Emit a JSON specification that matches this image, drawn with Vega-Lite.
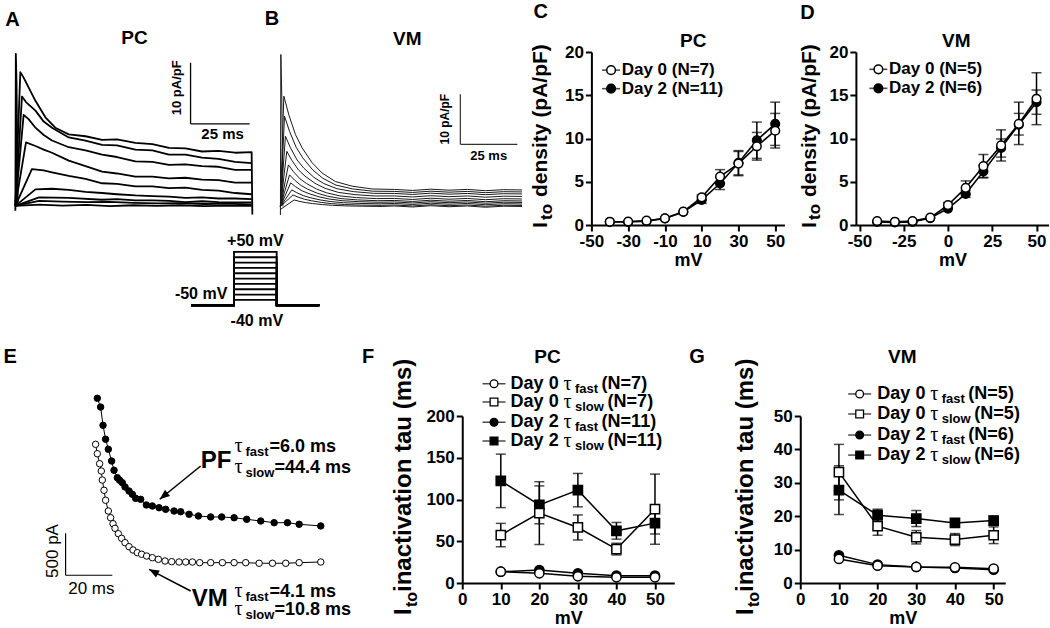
{
"$schema":"https://vega.github.io/schema/vega-lite/v6.json",
"background":"white",
"padding":{"left":3,"top":1,"right":0,"bottom":0},
"config":{
 "view":{"stroke":null},
 "axis":{"domainColor":"black","domainWidth":2,"tickColor":"black","tickWidth":2,"tickSize":6,"labelFont":"Liberation Sans","labelFontSize":17,"labelFontWeight":"bold","labelColor":"black","labelPadding":2,"labelFlush":false,"labelOverlap":false,"titleFont":"Liberation Sans","titleFontSize":18,"titleFontWeight":"bold","titleColor":"black","titlePadding":2,"grid":false},
 "text":{"font":"Liberation Sans","color":"black"}
},
"datasets":{
"trA":[
{"k":0,"t":0,"i":-0.8},{"k":0,"t":0.2,"i":24.9},{"k":0,"t":0.5,"i":20},{"k":0,"t":1.0,"i":0.5},
{"k":1,"t":0,"i":0},{"k":1,"t":2.1,"i":21.9},{"k":1,"t":3.5,"i":21.0},{"k":1,"t":5.6,"i":19.4},{"k":1,"t":8.5,"i":17.2},{"k":1,"t":12.7,"i":14.5},{"k":1,"t":16.9,"i":12.8},{"k":1,"t":22.6,"i":11.7},{"k":1,"t":29.7,"i":11.4},{"k":1,"t":36.7,"i":10.8},{"k":1,"t":43,"i":10.9},{"k":1,"t":50.8,"i":10.3},{"k":1,"t":58,"i":10.1},{"k":1,"t":65,"i":9.5},{"k":1,"t":72,"i":9.4},{"k":1,"t":79,"i":8.9},{"k":1,"t":86,"i":9.0},{"k":1,"t":93,"i":8.7},{"k":1,"t":100,"i":8.8},{"k":1,"t":100.3,"i":-1.4},
{"k":2,"t":0,"i":0},{"k":2,"t":2.8,"i":17.9},{"k":2,"t":4.5,"i":17.0},{"k":2,"t":8.5,"i":15.6},{"k":2,"t":12,"i":13.8},{"k":2,"t":15.5,"i":12.8},{"k":2,"t":22.6,"i":11.2},{"k":2,"t":29.7,"i":10.7},{"k":2,"t":36.7,"i":10.0},{"k":2,"t":43,"i":9.9},{"k":2,"t":50.8,"i":9.2},{"k":2,"t":58,"i":9.1},{"k":2,"t":65,"i":8.4},{"k":2,"t":72,"i":8.4},{"k":2,"t":79,"i":7.9},{"k":2,"t":86,"i":7.7},{"k":2,"t":93,"i":7.2},{"k":2,"t":100,"i":7.0},
{"k":3,"t":0,"i":0},{"k":3,"t":3.5,"i":14.9},{"k":3,"t":5.6,"i":14.2},{"k":3,"t":8.5,"i":12.8},{"k":3,"t":12,"i":11.6},{"k":3,"t":15.5,"i":10.7},{"k":3,"t":22.6,"i":9.6},{"k":3,"t":29.7,"i":9.1},{"k":3,"t":36.7,"i":8.4},{"k":3,"t":43,"i":8.0},{"k":3,"t":50.8,"i":7.3},{"k":3,"t":58,"i":7.2},{"k":3,"t":65,"i":6.7},{"k":3,"t":72,"i":6.8},{"k":3,"t":79,"i":6.5},{"k":3,"t":86,"i":6.4},{"k":3,"t":93,"i":5.9},{"k":3,"t":100,"i":5.9},
{"k":4,"t":0,"i":0},{"k":4,"t":4.5,"i":10.4},{"k":4,"t":8.5,"i":9.8},{"k":4,"t":12,"i":9.2},{"k":4,"t":15.5,"i":8.7},{"k":4,"t":22.6,"i":7.4},{"k":4,"t":29.7,"i":6.5},{"k":4,"t":36.7,"i":5.6},{"k":4,"t":43,"i":5.3},{"k":4,"t":50.8,"i":4.8},{"k":4,"t":58,"i":4.8},{"k":4,"t":65,"i":4.5},{"k":4,"t":72,"i":4.6},{"k":4,"t":79,"i":4.3},{"k":4,"t":86,"i":4.2},{"k":4,"t":93,"i":3.8},{"k":4,"t":100,"i":3.8},
{"k":5,"t":0,"i":0},{"k":5,"t":7,"i":6.0},{"k":5,"t":12,"i":5.8},{"k":5,"t":15.5,"i":5.5},{"k":5,"t":22.6,"i":4.9},{"k":5,"t":29.7,"i":4.4},{"k":5,"t":36.7,"i":3.7},{"k":5,"t":43,"i":3.6},{"k":5,"t":50.8,"i":3.2},{"k":5,"t":58,"i":3.2},{"k":5,"t":65,"i":2.9},{"k":5,"t":72,"i":3.0},{"k":5,"t":79,"i":2.6},{"k":5,"t":86,"i":2.5},{"k":5,"t":93,"i":2.1},{"k":5,"t":100,"i":1.9},
{"k":6,"t":0,"i":0},{"k":6,"t":8.5,"i":2.7},{"k":6,"t":15.5,"i":2.8},{"k":6,"t":22.6,"i":2.6},{"k":6,"t":29.7,"i":2.3},{"k":6,"t":36.7,"i":2.1},{"k":6,"t":43,"i":1.9},{"k":6,"t":50.8,"i":1.7},{"k":6,"t":58,"i":1.6},{"k":6,"t":65,"i":1.5},{"k":6,"t":72,"i":1.3},{"k":6,"t":79,"i":1.4},{"k":6,"t":86,"i":1.2},{"k":6,"t":93,"i":1.2},{"k":6,"t":100,"i":1.1},
{"k":7,"t":0,"i":0},{"k":7,"t":10,"i":1.4},{"k":7,"t":22.6,"i":1.3},{"k":7,"t":36.7,"i":1.0},{"k":7,"t":43,"i":1.1},{"k":7,"t":50.8,"i":0.9},{"k":7,"t":58,"i":0.9},{"k":7,"t":65,"i":0.8},{"k":7,"t":72,"i":0.6},{"k":7,"t":79,"i":0.75},{"k":7,"t":86,"i":0.6},{"k":7,"t":93,"i":0.55},{"k":7,"t":100,"i":0.55},
{"k":8,"t":0,"i":0},{"k":8,"t":10,"i":0.8},{"k":8,"t":20,"i":0.7},{"k":8,"t":30,"i":0.6},{"k":8,"t":40,"i":0.65},{"k":8,"t":50,"i":0.5},{"k":8,"t":60,"i":0.4},{"k":8,"t":70,"i":0.45},{"k":8,"t":80,"i":0.3},{"k":8,"t":90,"i":0.35},{"k":8,"t":100,"i":0.2},
{"k":9,"t":0,"i":0},{"k":9,"t":10,"i":0.2},{"k":9,"t":20,"i":0.05},{"k":9,"t":30,"i":0.15},{"k":9,"t":40,"i":-0.05},{"k":9,"t":50,"i":0.1},{"k":9,"t":60,"i":0},{"k":9,"t":70,"i":0.1},{"k":9,"t":80,"i":-0.05},{"k":9,"t":90,"i":0.05},{"k":9,"t":100,"i":0}
],
"barA":[{"t":74.15,"t2":74.15,"i":13.44,"i2":23.44},{"t":74.15,"t2":99.15,"i":13.44,"i2":13.44}],
"txtA":[{"s":"A","r":"letter","t":-1.27,"i":30.4},{"s":"PC","r":"title","t":50.4,"i":27.5},{"s":"10 pA/pF","r":"vbar","t":68.2,"i":19.34},{"s":"25 ms","r":"hbar","t":87.7,"i":11.8}],
"trB":[
{"k":0,"t":0,"i":-1.7},{"k":0,"t":0.2,"i":30.3},{"k":0,"t":0.6,"i":22},{"k":0,"t":1.1,"i":0},
{"k":1,"t":0,"i":0},{"k":1,"t":1.5,"i":22},{"k":1,"t":3.7,"i":18.26},{"k":1,"t":6.6,"i":14.33},{"k":1,"t":9.5,"i":11.72},{"k":1,"t":13.9,"i":8.72},{"k":1,"t":18.3,"i":6.67},{"k":1,"t":24.1,"i":4.98},{"k":1,"t":31.4,"i":4.05},{"k":1,"t":40.2,"i":3.49},{"k":1,"t":50,"i":3.4},{"k":1,"t":58,"i":3.2},{"k":1,"t":66,"i":3.45},{"k":1,"t":74,"i":3.25},{"k":1,"t":82,"i":3.4},{"k":1,"t":90,"i":3.15},{"k":1,"t":98,"i":3.35},{"k":1,"t":106,"i":3.3},
{"k":2,"t":0,"i":0},{"k":2,"t":1.8,"i":18},{"k":2,"t":4.0,"i":14.98},{"k":2,"t":6.9,"i":11.81},{"k":2,"t":9.8,"i":9.7},{"k":2,"t":14.2,"i":7.28},{"k":2,"t":18.6,"i":5.62},{"k":2,"t":24.4,"i":4.26},{"k":2,"t":31.7,"i":3.5},{"k":2,"t":40.5,"i":3.05},{"k":2,"t":50,"i":3.0},{"k":2,"t":58,"i":2.8},{"k":2,"t":66,"i":3.05},{"k":2,"t":74,"i":2.85},{"k":2,"t":82,"i":3.0},{"k":2,"t":90,"i":2.75},{"k":2,"t":98,"i":2.95},{"k":2,"t":106,"i":2.9},
{"k":3,"t":0,"i":0},{"k":3,"t":2.2,"i":14},{"k":3,"t":4.4,"i":11.7},{"k":3,"t":7.3,"i":9.29},{"k":3,"t":10.2,"i":7.68},{"k":3,"t":14.6,"i":5.84},{"k":3,"t":19,"i":4.57},{"k":3,"t":24.8,"i":3.54},{"k":3,"t":32.1,"i":2.96},{"k":3,"t":40.9,"i":2.62},{"k":3,"t":50,"i":2.6},{"k":3,"t":58,"i":2.4},{"k":3,"t":66,"i":2.65},{"k":3,"t":74,"i":2.45},{"k":3,"t":82,"i":2.6},{"k":3,"t":90,"i":2.35},{"k":3,"t":98,"i":2.55},{"k":3,"t":106,"i":2.5},
{"k":4,"t":0,"i":0},{"k":4,"t":2.8,"i":11},{"k":4,"t":5.0,"i":9.2},{"k":4,"t":7.9,"i":7.31},{"k":4,"t":10.8,"i":6.05},{"k":4,"t":15.2,"i":4.61},{"k":4,"t":19.6,"i":3.62},{"k":4,"t":25.4,"i":2.81},{"k":4,"t":32.7,"i":2.36},{"k":4,"t":41.5,"i":2.09},{"k":4,"t":50,"i":2.1},{"k":4,"t":58,"i":1.9},{"k":4,"t":66,"i":2.15},{"k":4,"t":74,"i":1.95},{"k":4,"t":82,"i":2.1},{"k":4,"t":90,"i":1.85},{"k":4,"t":98,"i":2.05},{"k":4,"t":106,"i":2.0},
{"k":5,"t":0,"i":0},{"k":5,"t":3.5,"i":8.3},{"k":5,"t":5.7,"i":6.94},{"k":5,"t":8.6,"i":5.51},{"k":5,"t":11.5,"i":4.56},{"k":5,"t":15.9,"i":3.47},{"k":5,"t":20.3,"i":2.72},{"k":5,"t":26.1,"i":2.11},{"k":5,"t":33.4,"i":1.77},{"k":5,"t":42.2,"i":1.57},{"k":5,"t":50,"i":1.6},{"k":5,"t":58,"i":1.4},{"k":5,"t":66,"i":1.65},{"k":5,"t":74,"i":1.45},{"k":5,"t":82,"i":1.6},{"k":5,"t":90,"i":1.35},{"k":5,"t":98,"i":1.55},{"k":5,"t":106,"i":1.5},
{"k":6,"t":0,"i":0},{"k":6,"t":4.0,"i":6.3},{"k":6,"t":6.2,"i":5.26},{"k":6,"t":9.1,"i":4.17},{"k":6,"t":12,"i":3.44},{"k":6,"t":16.4,"i":2.61},{"k":6,"t":20.8,"i":2.04},{"k":6,"t":26.6,"i":1.57},{"k":6,"t":33.9,"i":1.31},{"k":6,"t":42.7,"i":1.15},{"k":6,"t":50,"i":1.2},{"k":6,"t":58,"i":1.0},{"k":6,"t":66,"i":1.25},{"k":6,"t":74,"i":1.05},{"k":6,"t":82,"i":1.2},{"k":6,"t":90,"i":0.95},{"k":6,"t":98,"i":1.15},{"k":6,"t":106,"i":1.1},
{"k":7,"t":0,"i":0},{"k":7,"t":4.5,"i":4.7},{"k":7,"t":6.7,"i":3.92},{"k":7,"t":9.6,"i":3.1},{"k":7,"t":12.5,"i":2.56},{"k":7,"t":16.9,"i":1.93},{"k":7,"t":21.3,"i":1.5},{"k":7,"t":27.1,"i":1.15},{"k":7,"t":34.4,"i":0.96},{"k":7,"t":43.2,"i":0.84},{"k":7,"t":50,"i":0.9},{"k":7,"t":58,"i":0.7},{"k":7,"t":66,"i":0.95},{"k":7,"t":74,"i":0.75},{"k":7,"t":82,"i":0.9},{"k":7,"t":90,"i":0.65},{"k":7,"t":98,"i":0.85},{"k":7,"t":106,"i":0.8},
{"k":8,"t":0,"i":0},{"k":8,"t":5,"i":3.3},{"k":8,"t":7.2,"i":2.74},{"k":8,"t":10.1,"i":2.15},{"k":8,"t":13,"i":1.76},{"k":8,"t":17.4,"i":1.31},{"k":8,"t":21.8,"i":1.0},{"k":8,"t":27.6,"i":0.75},{"k":8,"t":34.9,"i":0.61},{"k":8,"t":43.7,"i":0.53},{"k":8,"t":50,"i":0.6},{"k":8,"t":58,"i":0.4},{"k":8,"t":66,"i":0.65},{"k":8,"t":74,"i":0.45},{"k":8,"t":82,"i":0.6},{"k":8,"t":90,"i":0.35},{"k":8,"t":98,"i":0.55},{"k":8,"t":106,"i":0.5},
{"k":9,"t":0,"i":0},{"k":9,"t":5.5,"i":2.3},{"k":9,"t":7.7,"i":1.88},{"k":9,"t":10.6,"i":1.44},{"k":9,"t":13.5,"i":1.15},{"k":9,"t":17.9,"i":0.81},{"k":9,"t":22.3,"i":0.58},{"k":9,"t":28.1,"i":0.39},{"k":9,"t":35.4,"i":0.28},{"k":9,"t":44.2,"i":0.22},{"k":9,"t":50,"i":0.3},{"k":9,"t":58,"i":0.1},{"k":9,"t":66,"i":0.35},{"k":9,"t":74,"i":0.15},{"k":9,"t":82,"i":0.3},{"k":9,"t":90,"i":0.05},{"k":9,"t":98,"i":0.25},{"k":9,"t":106,"i":0.2},
{"k":10,"t":0,"i":-0.6},{"k":10,"t":6,"i":1.3},{"k":10,"t":8.2,"i":1.04},{"k":10,"t":11.1,"i":0.77},{"k":10,"t":14,"i":0.59},{"k":10,"t":18.4,"i":0.38},{"k":10,"t":22.8,"i":0.23},{"k":10,"t":28.6,"i":0.12},{"k":10,"t":35.9,"i":0.05},{"k":10,"t":44.7,"i":0.01},{"k":10,"t":50,"i":0.1},{"k":10,"t":58,"i":-0.1},{"k":10,"t":66,"i":0.15},{"k":10,"t":74,"i":-0.05},{"k":10,"t":82,"i":0.1},{"k":10,"t":90,"i":-0.15},{"k":10,"t":98,"i":0.05},{"k":10,"t":106,"i":0}
],
"barB":[{"t":78.95,"t2":78.95,"i":12.4,"i2":22.4},{"t":78.95,"t2":103.95,"i":12.4,"i2":12.4}],
"txtB":[{"s":"B","r":"letter","t":-3.73,"i":37.4},{"s":"VM","r":"title","t":55.7,"i":33.4},{"s":"10 pA/pF","r":"vbar","t":72.1,"i":17.4},{"s":"25 ms","r":"hbar","t":91.4,"i":10.0}],
"stim":[
{"lv":-40,"seq":1,"t":-100,"v":-50},{"lv":-40,"seq":2,"t":0,"v":-50},{"lv":-40,"seq":3,"t":0,"v":-40},{"lv":-40,"seq":4,"t":100,"v":-40},{"lv":-40,"seq":5,"t":100,"v":-50},{"lv":-40,"seq":6,"t":200,"v":-50},
{"lv":-30,"seq":1,"t":-100,"v":-50},{"lv":-30,"seq":2,"t":0,"v":-50},{"lv":-30,"seq":3,"t":0,"v":-30},{"lv":-30,"seq":4,"t":100,"v":-30},{"lv":-30,"seq":5,"t":100,"v":-50},{"lv":-30,"seq":6,"t":200,"v":-50},
{"lv":-20,"seq":1,"t":-100,"v":-50},{"lv":-20,"seq":2,"t":0,"v":-50},{"lv":-20,"seq":3,"t":0,"v":-20},{"lv":-20,"seq":4,"t":100,"v":-20},{"lv":-20,"seq":5,"t":100,"v":-50},{"lv":-20,"seq":6,"t":200,"v":-50},
{"lv":-10,"seq":1,"t":-100,"v":-50},{"lv":-10,"seq":2,"t":0,"v":-50},{"lv":-10,"seq":3,"t":0,"v":-10},{"lv":-10,"seq":4,"t":100,"v":-10},{"lv":-10,"seq":5,"t":100,"v":-50},{"lv":-10,"seq":6,"t":200,"v":-50},
{"lv":0,"seq":1,"t":-100,"v":-50},{"lv":0,"seq":2,"t":0,"v":-50},{"lv":0,"seq":3,"t":0,"v":0},{"lv":0,"seq":4,"t":100,"v":0},{"lv":0,"seq":5,"t":100,"v":-50},{"lv":0,"seq":6,"t":200,"v":-50},
{"lv":10,"seq":1,"t":-100,"v":-50},{"lv":10,"seq":2,"t":0,"v":-50},{"lv":10,"seq":3,"t":0,"v":10},{"lv":10,"seq":4,"t":100,"v":10},{"lv":10,"seq":5,"t":100,"v":-50},{"lv":10,"seq":6,"t":200,"v":-50},
{"lv":20,"seq":1,"t":-100,"v":-50},{"lv":20,"seq":2,"t":0,"v":-50},{"lv":20,"seq":3,"t":0,"v":20},{"lv":20,"seq":4,"t":100,"v":20},{"lv":20,"seq":5,"t":100,"v":-50},{"lv":20,"seq":6,"t":200,"v":-50},
{"lv":30,"seq":1,"t":-100,"v":-50},{"lv":30,"seq":2,"t":0,"v":-50},{"lv":30,"seq":3,"t":0,"v":30},{"lv":30,"seq":4,"t":100,"v":30},{"lv":30,"seq":5,"t":100,"v":-50},{"lv":30,"seq":6,"t":200,"v":-50},
{"lv":40,"seq":1,"t":-100,"v":-50},{"lv":40,"seq":2,"t":0,"v":-50},{"lv":40,"seq":3,"t":0,"v":40},{"lv":40,"seq":4,"t":100,"v":40},{"lv":40,"seq":5,"t":100,"v":-50},{"lv":40,"seq":6,"t":200,"v":-50},
{"lv":50,"seq":1,"t":-100,"v":-50},{"lv":50,"seq":2,"t":0,"v":-50},{"lv":50,"seq":3,"t":0,"v":50},{"lv":50,"seq":4,"t":100,"v":50},{"lv":50,"seq":5,"t":100,"v":-50},{"lv":50,"seq":6,"t":200,"v":-50}
],
"txtS":[{"s":"+50 mV","r":"c","t":50,"v":70},{"s":"-50 mV","r":"r","t":-15.6,"v":-28.9},{"s":"-40 mV","r":"c","t":53.5,"v":-79.3}],
"ivC":[
{"day":"Day 2","mv":-40,"i":0.35},{"day":"Day 2","mv":-30,"i":0.35},{"day":"Day 2","mv":-20,"i":0.45},{"day":"Day 2","mv":-10,"i":0.75},{"day":"Day 2","mv":0,"i":1.5},{"day":"Day 2","mv":10,"i":2.9,"lo":2.5,"hi":3.3},{"day":"Day 2","mv":20,"i":4.8,"lo":4.1,"hi":5.5},{"day":"Day 2","mv":30,"i":7.2,"lo":5.8,"hi":8.6},{"day":"Day 2","mv":40,"i":9.8,"lo":7.7,"hi":11.9},{"day":"Day 2","mv":50,"i":11.7,"lo":9.2,"hi":14.2},
{"day":"Day 0","mv":-40,"i":0.38},{"day":"Day 0","mv":-30,"i":0.4},{"day":"Day 0","mv":-20,"i":0.5},{"day":"Day 0","mv":-10,"i":0.77},{"day":"Day 0","mv":0,"i":1.54},{"day":"Day 0","mv":10,"i":3.2,"lo":2.9,"hi":3.5},{"day":"Day 0","mv":20,"i":5.6,"lo":4.8,"hi":6.4},{"day":"Day 0","mv":30,"i":7.1,"lo":5.7,"hi":8.5},{"day":"Day 0","mv":40,"i":9.1,"lo":7.5,"hi":10.7},{"day":"Day 0","mv":50,"i":10.9,"lo":8.9,"hi":12.9}
],
"legC":[{"day":"Day 0","lab":"Day 0 (N=7)","mv":-39.3,"i":17.9},{"day":"Day 2","lab":"Day 2 (N=11)","mv":-39.3,"i":15.76}],
"txtC":[{"s":"C","r":"letter","mv":-77.6,"i":24.65},{"s":"PC","r":"title","mv":5.4,"i":21.27},{"s":"I","r":"yI","mv":-73.9,"i":-0.35},{"s":"to","r":"ysub","mv":-71.2,"i":0.58},{"s":"density (pA/pF)","r":"ymain","mv":-73.9,"i":3.24}],
"ivD":[
{"day":"Day 2","mv":-40,"i":0.35},{"day":"Day 2","mv":-30,"i":0.3},{"day":"Day 2","mv":-20,"i":0.35},{"day":"Day 2","mv":-10,"i":0.8},{"day":"Day 2","mv":0,"i":1.9},{"day":"Day 2","mv":10,"i":3.6,"lo":3.2,"hi":4.0},{"day":"Day 2","mv":20,"i":6.2,"lo":5.5,"hi":6.9},{"day":"Day 2","mv":30,"i":8.9,"lo":7.85,"hi":9.95},{"day":"Day 2","mv":40,"i":11.6,"lo":10.4,"hi":12.9},{"day":"Day 2","mv":50,"i":14.2,"lo":12.8,"hi":15.6},
{"day":"Day 0","mv":-40,"i":0.46},{"day":"Day 0","mv":-30,"i":0.38},{"day":"Day 0","mv":-20,"i":0.46},{"day":"Day 0","mv":-10,"i":0.85},{"day":"Day 0","mv":0,"i":2.3,"lo":2.0,"hi":2.6},{"day":"Day 0","mv":10,"i":4.3,"lo":3.5,"hi":5.1},{"day":"Day 0","mv":20,"i":6.8,"lo":5.45,"hi":8.15},{"day":"Day 0","mv":30,"i":9.2,"lo":7.4,"hi":11.0},{"day":"Day 0","mv":40,"i":11.7,"lo":9.3,"hi":14.2},{"day":"Day 0","mv":50,"i":14.6,"lo":11.6,"hi":17.6}
],
"legD":[{"day":"Day 0","lab":"Day 0 (N=5)","mv":-39.3,"i":18.0},{"day":"Day 2","lab":"Day 2 (N=6)","mv":-39.3,"i":15.8}],
"txtD":[{"s":"D","r":"letter","mv":-79.3,"i":24.54},{"s":"VM","r":"title","mv":4.7,"i":21.27},{"s":"I","r":"yI","mv":-74.8,"i":-0.35},{"s":"to","r":"ysub","mv":-72.0,"i":0.58},{"s":"density (pA/pF)","r":"ymain","mv":-74.8,"i":3.24}],
"decay":[
{"cell":"PF","t":0.85,"pa":2199},{"cell":"PF","t":2.26,"pa":2094},{"cell":"PF","t":3.28,"pa":1877},{"cell":"PF","t":4.38,"pa":1711},{"cell":"PF","t":5.53,"pa":1592},{"cell":"PF","t":6.94,"pa":1452},{"cell":"PF","t":7.96,"pa":1342},{"cell":"PF","t":9.36,"pa":1254},{"cell":"PF","t":10.34,"pa":1223},{"cell":"PF","t":11.49,"pa":1194},{"cell":"PF","t":12.64,"pa":1143},{"cell":"PF","t":14.34,"pa":1095},{"cell":"PF","t":15.74,"pa":1056},{"cell":"PF","t":17.15,"pa":1008},{"cell":"PF","t":19.28,"pa":996},{"cell":"PF","t":21.7,"pa":929},{"cell":"PF","t":24.26,"pa":917},{"cell":"PF","t":27.11,"pa":896},{"cell":"PF","t":29.91,"pa":877},{"cell":"PF","t":33.49,"pa":857},{"cell":"PF","t":36.3,"pa":849},{"cell":"PF","t":39.87,"pa":818},{"cell":"PF","t":43.83,"pa":798},{"cell":"PF","t":49.06,"pa":786},{"cell":"PF","t":53.74,"pa":786},{"cell":"PF","t":59.02,"pa":777},{"cell":"PF","t":64.38,"pa":758},{"cell":"PF","t":70.34,"pa":738},{"cell":"PF","t":76.04,"pa":718},{"cell":"PF","t":81.7,"pa":718},{"cell":"PF","t":86.68,"pa":699},{"cell":"PF","t":95.87,"pa":679},
{"cell":"VM","t":0.13,"pa":1651},{"cell":"VM","t":0.85,"pa":1539},{"cell":"VM","t":1.83,"pa":1420},{"cell":"VM","t":2.55,"pa":1333},{"cell":"VM","t":2.98,"pa":1226},{"cell":"VM","t":3.7,"pa":1104},{"cell":"VM","t":4.38,"pa":985},{"cell":"VM","t":5.53,"pa":857},{"cell":"VM","t":6.51,"pa":777},{"cell":"VM","t":7.53,"pa":706},{"cell":"VM","t":8.38,"pa":651},{"cell":"VM","t":9.79,"pa":587},{"cell":"VM","t":11.19,"pa":532},{"cell":"VM","t":12.64,"pa":480},{"cell":"VM","t":14.34,"pa":432},{"cell":"VM","t":16.04,"pa":393},{"cell":"VM","t":17.87,"pa":361},{"cell":"VM","t":19.7,"pa":342},{"cell":"VM","t":21.83,"pa":321},{"cell":"VM","t":24.26,"pa":301},{"cell":"VM","t":26.81,"pa":282},{"cell":"VM","t":29.66,"pa":262},{"cell":"VM","t":32.47,"pa":254},{"cell":"VM","t":35.62,"pa":250},{"cell":"VM","t":38.43,"pa":250},{"cell":"VM","t":41.28,"pa":250},{"cell":"VM","t":44.38,"pa":242},{"cell":"VM","t":49.06,"pa":242},{"cell":"VM","t":54.04,"pa":242},{"cell":"VM","t":59.02,"pa":242},{"cell":"VM","t":63.96,"pa":242},{"cell":"VM","t":69.66,"pa":235},{"cell":"VM","t":75.32,"pa":235},{"cell":"VM","t":80.98,"pa":235},{"cell":"VM","t":86.68,"pa":242},{"cell":"VM","t":95.87,"pa":250}
],
"barE":[{"t":-12.64,"t2":-12.64,"pa":92,"pa2":592},{"t":-12.64,"t2":7.23,"pa":92,"pa2":92}],
"arrE":[{"a":"PF","t":44.8,"pa":1393,"t2":27.4,"pa2":997},{"a":"VM","t":40.55,"pa":-95,"t2":22.85,"pa2":163}],
"txtE":[
{"s":"E","r":"letter","t":-36.2,"pa":2690},
{"s":"PF","r":"big","t":51.3,"pa":1452},{"s":"VM","r":"big","t":48.7,"pa":-185},
{"s":"500 pA","r":"vbar","t":-18.09,"pa":381},{"s":"20 ms","r":"hbar","t":-1.7,"pa":-71.4},
{"s":"fast","r":"f","v":"=6.0 ms","t":59.2,"pa":1565},{"s":"slow","r":"s","v":"=44.4 ms","t":59.2,"pa":1313},
{"s":"fast","r":"f","v":"=4.1 ms","t":59.2,"pa":-163},{"s":"slow","r":"s","v":"=10.8 ms","t":59.2,"pa":-385}
],
"tauF":[
{"s":"d2f","mv":10,"tau":13.5},{"s":"d2f","mv":20,"tau":15.5},{"s":"d2f","mv":30,"tau":11.6},{"s":"d2f","mv":40,"tau":8.8},{"s":"d2f","mv":50,"tau":8.8},
{"s":"d2s","mv":10,"tau":122.3,"lo":90.3,"hi":154.3},{"s":"d2s","mv":20,"tau":93.6,"lo":70.9,"hi":116.3},{"s":"d2s","mv":30,"tau":111.2,"lo":91.2,"hi":131.2},{"s":"d2s","mv":40,"tau":62.5,"lo":52.5,"hi":72.5},{"s":"d2s","mv":50,"tau":71.7,"lo":58.7,"hi":84.7},
{"s":"d0f","mv":10,"tau":13.5},{"s":"d0f","mv":20,"tau":11.6},{"s":"d0f","mv":30,"tau":8},{"s":"d0f","mv":40,"tau":6.8},{"s":"d0f","mv":50,"tau":6.8},
{"s":"d0s","mv":10,"tau":57.4,"lo":43.4,"hi":71.4},{"s":"d0s","mv":20,"tau":83.7,"lo":46.1,"hi":121.3},{"s":"d0s","mv":30,"tau":66.5,"lo":51.5,"hi":81.5},{"s":"d0s","mv":40,"tau":40.6,"lo":33.6,"hi":47.6},{"s":"d0s","mv":50,"tau":88.4,"lo":46.4,"hi":130.4}
],
"legF":[{"s":"d0f","day":"Day 0","sub":"fast","n":"(N=7)","mv":8.24,"tau":238.7},{"s":"d0s","day":"Day 0","sub":"slow","n":"(N=7)","mv":8.24,"tau":216.8},{"s":"d2f","day":"Day 2","sub":"fast","n":"(N=11)","mv":8.24,"tau":192.5},{"s":"d2s","day":"Day 2","sub":"slow","n":"(N=11)","mv":8.24,"tau":170.1}],
"txtF":[{"s":"F","r":"letter","mv":-24.4,"tau":270.7},{"s":"PC","r":"title","mv":22.1,"tau":270.7},{"s":"I","r":"yI","mv":-13.26,"tau":-38.3},{"s":"to","r":"ysub","mv":-11.7,"tau":-28.7},{"s":"inactivation tau (ms)","r":"ymain","mv":-13.26,"tau":-10.8}],
"tauG":[
{"s":"d2f","mv":10,"tau":8.3},{"s":"d2f","mv":20,"tau":5.5},{"s":"d2f","mv":30,"tau":4.8},{"s":"d2f","mv":40,"tau":4.5},{"s":"d2f","mv":50,"tau":4.0},
{"s":"d2s","mv":10,"tau":27.8,"lo":20.5,"hi":35.1},{"s":"d2s","mv":20,"tau":20.3,"lo":18.5,"hi":22.1},{"s":"d2s","mv":30,"tau":19.3,"lo":16.9,"hi":21.7},{"s":"d2s","mv":40,"tau":18,"lo":17,"hi":19},{"s":"d2s","mv":50,"tau":18.7,"lo":17.4,"hi":20},
{"s":"d0f","mv":10,"tau":7.2},{"s":"d0f","mv":20,"tau":5.2},{"s":"d0f","mv":30,"tau":4.8},{"s":"d0f","mv":40,"tau":4.7},{"s":"d0f","mv":50,"tau":4.3},
{"s":"d0s","mv":10,"tau":33.2,"lo":24.9,"hi":41.5},{"s":"d0s","mv":20,"tau":17,"lo":14.3,"hi":19.7},{"s":"d0s","mv":30,"tau":13.7,"lo":11.7,"hi":15.7},{"s":"d0s","mv":40,"tau":13,"lo":11.2,"hi":14.8},{"s":"d0s","mv":50,"tau":14.3,"lo":11.8,"hi":16.8}
],
"legG":[{"s":"d0f","day":"Day 0","sub":"fast","n":"(N=5)","mv":15.36,"tau":56.6},{"s":"d0s","day":"Day 0","sub":"slow","n":"(N=5)","mv":15.36,"tau":50.6},{"s":"d2f","day":"Day 2","sub":"fast","n":"(N=6)","mv":15.36,"tau":44.3},{"s":"d2s","day":"Day 2","sub":"slow","n":"(N=6)","mv":15.36,"tau":38.3}],
"txtG":[{"s":"G","r":"letter","mv":-26.7,"tau":67.7},{"s":"VM","r":"title","mv":26.4,"tau":67.7},{"s":"I","r":"yI","mv":-12.2,"tau":-9.58},{"s":"to","r":"ysub","mv":-10.6,"tau":-7.19},{"s":"inactivation tau (ms)","r":"ymain","mv":-12.2,"tau":-2.69}]
},
"vconcat":[
{"hconcat":[
 {"vconcat":[
  {"hconcat":[
   {"width":241,"height":163,
    "encoding":{"x":{"field":"t","type":"quantitative","scale":{"domain":[-1,101],"nice":false,"zero":false},"axis":null},"y":{"field":"i","type":"quantitative","scale":{"domain":[-1.5,25.2],"nice":false,"zero":false},"axis":null}},
    "layer":[
     {"data":{"name":"trA"},"mark":{"type":"line","color":"black","strokeWidth":1.8,"strokeJoin":"round"},"encoding":{"detail":{"field":"k","type":"nominal"}}},
     {"data":{"name":"barA"},"mark":{"type":"rule","color":"black","strokeWidth":1.3},"encoding":{"x2":{"field":"t2"},"y2":{"field":"i2"}}},
     {"data":{"name":"txtA"},"transform":[{"filter":"datum.r=='letter'"}],"mark":{"type":"text","fontSize":20,"fontWeight":"bold","align":"center","baseline":"middle"},"encoding":{"text":{"field":"s","type":"nominal"}}},
     {"data":{"name":"txtA"},"transform":[{"filter":"datum.r=='title'"}],"mark":{"type":"text","fontSize":19,"fontWeight":"bold","align":"center","baseline":"middle"},"encoding":{"text":{"field":"s","type":"nominal"}}},
     {"data":{"name":"txtA"},"transform":[{"filter":"datum.r=='vbar'"}],"mark":{"type":"text","fontSize":13,"fontWeight":"bold","align":"center","baseline":"middle","angle":270},"encoding":{"text":{"field":"s","type":"nominal"}}},
     {"data":{"name":"txtA"},"transform":[{"filter":"datum.r=='hbar'"}],"mark":{"type":"text","fontSize":15,"fontWeight":"bold","align":"center","baseline":"middle"},"encoding":{"text":{"field":"s","type":"nominal"}}}
    ]},
   {"width":245,"height":162,
    "encoding":{"x":{"field":"t","type":"quantitative","scale":{"domain":[-1.5,106],"nice":false,"zero":false},"axis":null},"y":{"field":"i","type":"quantitative","scale":{"domain":[-1.5,30.8],"nice":false,"zero":false},"axis":null}},
    "layer":[
     {"data":{"name":"trB"},"mark":{"type":"line","color":"#1a1a1a","strokeWidth":1.0,"strokeJoin":"round"},"encoding":{"detail":{"field":"k","type":"nominal"}}},
     {"data":{"name":"barB"},"mark":{"type":"rule","color":"#333333","strokeWidth":1.2},"encoding":{"x2":{"field":"t2"},"y2":{"field":"i2"}}},
     {"data":{"name":"txtB"},"transform":[{"filter":"datum.r=='letter'"}],"mark":{"type":"text","fontSize":20,"fontWeight":"bold","align":"center","baseline":"middle"},"encoding":{"text":{"field":"s","type":"nominal"}}},
     {"data":{"name":"txtB"},"transform":[{"filter":"datum.r=='title'"}],"mark":{"type":"text","fontSize":19,"fontWeight":"bold","align":"center","baseline":"middle"},"encoding":{"text":{"field":"s","type":"nominal"}}},
     {"data":{"name":"txtB"},"transform":[{"filter":"datum.r=='vbar'"}],"mark":{"type":"text","fontSize":12,"fontWeight":"bold","align":"center","baseline":"middle","angle":270},"encoding":{"text":{"field":"s","type":"nominal"}}},
     {"data":{"name":"txtB"},"transform":[{"filter":"datum.r=='hbar'"}],"mark":{"type":"text","fontSize":13,"fontWeight":"bold","align":"center","baseline":"middle"},"encoding":{"text":{"field":"s","type":"nominal"}}}
    ]}
  ],"spacing":23,"bounds":"flush"},
  {"width":509,"height":64,
   "encoding":{"x":{"field":"t","type":"quantitative","scale":{"domain":[-518,675],"nice":false,"zero":false},"axis":null},"y":{"field":"v","type":"quantitative","scale":{"domain":[-60,60],"nice":false,"zero":false},"axis":null}},
   "layer":[
    {"data":{"name":"stim"},"mark":{"type":"line","color":"black","strokeWidth":1.8},"encoding":{"detail":{"field":"lv","type":"nominal"},"order":{"field":"seq","type":"quantitative"}}},
    {"data":{"name":"txtS"},"transform":[{"filter":"datum.r=='c'"}],"mark":{"type":"text","fontSize":16,"fontWeight":"bold","align":"center","baseline":"middle"},"encoding":{"text":{"field":"s","type":"nominal"}}},
    {"data":{"name":"txtS"},"transform":[{"filter":"datum.r=='r'"}],"mark":{"type":"text","fontSize":16,"fontWeight":"bold","align":"right","baseline":"middle"},"encoding":{"text":{"field":"s","type":"nominal"}}}
   ]}
 ],"spacing":194.6,"bounds":"flush"},
 {"hconcat":[
  {"width":193,"height":173,
   "encoding":{"x":{"field":"mv","type":"quantitative","scale":{"domain":[-50,55],"nice":false,"zero":false},"axis":{"values":[-50,-30,-10,10,30,50],"title":"mV","labelExpr":"'' + datum.value"}},"y":{"field":"i","type":"quantitative","scale":{"domain":[0,20],"nice":false,"zero":false},"axis":{"values":[0,5,10,15,20],"title":null}}},
   "layer":[
    {"data":{"name":"ivC"},"mark":{"type":"line","color":"black","strokeWidth":1.6},"encoding":{"detail":{"field":"day","type":"nominal"}}},
    {"data":{"name":"ivC"},"transform":[{"filter":"isValid(datum.lo)"}],"mark":{"type":"rule","color":"black","strokeWidth":1.5},"encoding":{"y":{"field":"lo","type":"quantitative","axis":{"values":[0,5,10,15,20],"title":null}},"y2":{"field":"hi"}}},
    {"data":{"name":"ivC"},"transform":[{"filter":"isValid(datum.lo)"}],"mark":{"type":"tick","orient":"horizontal","color":"black","size":10,"thickness":1.5},"encoding":{"y":{"field":"lo","type":"quantitative","axis":{"values":[0,5,10,15,20],"title":null}}}},
    {"data":{"name":"ivC"},"transform":[{"filter":"isValid(datum.hi)"}],"mark":{"type":"tick","orient":"horizontal","color":"black","size":10,"thickness":1.5},"encoding":{"y":{"field":"hi","type":"quantitative","axis":{"values":[0,5,10,15,20],"title":null}}}},
    {"data":{"name":"ivC"},"mark":{"type":"point","shape":"circle","filled":true,"size":75,"stroke":"black","strokeWidth":1.5,"opacity":1},"encoding":{"fill":{"condition":{"test":"datum.day=='Day 2'","value":"black"},"value":"white"}}},
    {"data":{"name":"legC"},"mark":{"type":"tick","orient":"horizontal","color":"black","size":18,"thickness":1.6}},
    {"data":{"name":"legC"},"mark":{"type":"point","shape":"circle","filled":true,"size":75,"stroke":"black","strokeWidth":1.5,"opacity":1},"encoding":{"fill":{"condition":{"test":"datum.day=='Day 2'","value":"black"},"value":"white"}}},
    {"data":{"name":"legC"},"mark":{"type":"text","fontSize":17,"fontWeight":"bold","align":"left","baseline":"middle","dx":10.6},"encoding":{"text":{"field":"lab","type":"nominal"}}},
    {"data":{"name":"txtC"},"transform":[{"filter":"datum.r=='letter'"}],"mark":{"type":"text","fontSize":20,"fontWeight":"bold","align":"center","baseline":"middle"},"encoding":{"text":{"field":"s","type":"nominal"}}},
    {"data":{"name":"txtC"},"transform":[{"filter":"datum.r=='title'"}],"mark":{"type":"text","fontSize":19,"fontWeight":"bold","align":"center","baseline":"middle"},"encoding":{"text":{"field":"s","type":"nominal"}}},
    {"data":{"name":"txtC"},"transform":[{"filter":"datum.r=='yI' || datum.r=='ymain'"}],"mark":{"type":"text","fontSize":21,"fontWeight":"bold","align":"left","baseline":"alphabetic","angle":270},"encoding":{"text":{"field":"s","type":"nominal"}}},
    {"data":{"name":"txtC"},"transform":[{"filter":"datum.r=='ysub'"}],"mark":{"type":"text","fontSize":17,"fontWeight":"bold","align":"left","baseline":"alphabetic","angle":270},"encoding":{"text":{"field":"s","type":"nominal"}}}
   ]},
  {"width":193,"height":173,
   "encoding":{"x":{"field":"mv","type":"quantitative","scale":{"domain":[-52,57],"nice":false,"zero":false},"axis":{"values":[-50,-25,0,25,50],"title":"mV","labelExpr":"'' + datum.value"}},"y":{"field":"i","type":"quantitative","scale":{"domain":[0,20],"nice":false,"zero":false},"axis":{"values":[0,5,10,15,20],"title":null}}},
   "layer":[
    {"data":{"name":"ivD"},"mark":{"type":"line","color":"black","strokeWidth":1.6},"encoding":{"detail":{"field":"day","type":"nominal"}}},
    {"data":{"name":"ivD"},"transform":[{"filter":"isValid(datum.lo)"}],"mark":{"type":"rule","color":"black","strokeWidth":1.5},"encoding":{"y":{"field":"lo","type":"quantitative","axis":{"values":[0,5,10,15,20],"title":null}},"y2":{"field":"hi"}}},
    {"data":{"name":"ivD"},"transform":[{"filter":"isValid(datum.lo)"}],"mark":{"type":"tick","orient":"horizontal","color":"black","size":10,"thickness":1.5},"encoding":{"y":{"field":"lo","type":"quantitative","axis":{"values":[0,5,10,15,20],"title":null}}}},
    {"data":{"name":"ivD"},"transform":[{"filter":"isValid(datum.hi)"}],"mark":{"type":"tick","orient":"horizontal","color":"black","size":10,"thickness":1.5},"encoding":{"y":{"field":"hi","type":"quantitative","axis":{"values":[0,5,10,15,20],"title":null}}}},
    {"data":{"name":"ivD"},"mark":{"type":"point","shape":"circle","filled":true,"size":75,"stroke":"black","strokeWidth":1.5,"opacity":1},"encoding":{"fill":{"condition":{"test":"datum.day=='Day 2'","value":"black"},"value":"white"}}},
    {"data":{"name":"legD"},"mark":{"type":"tick","orient":"horizontal","color":"black","size":18,"thickness":1.6}},
    {"data":{"name":"legD"},"mark":{"type":"point","shape":"circle","filled":true,"size":75,"stroke":"black","strokeWidth":1.5,"opacity":1},"encoding":{"fill":{"condition":{"test":"datum.day=='Day 2'","value":"black"},"value":"white"}}},
    {"data":{"name":"legD"},"mark":{"type":"text","fontSize":17,"fontWeight":"bold","align":"left","baseline":"middle","dx":10.7},"encoding":{"text":{"field":"lab","type":"nominal"}}},
    {"data":{"name":"txtD"},"transform":[{"filter":"datum.r=='letter'"}],"mark":{"type":"text","fontSize":20,"fontWeight":"bold","align":"center","baseline":"middle"},"encoding":{"text":{"field":"s","type":"nominal"}}},
    {"data":{"name":"txtD"},"transform":[{"filter":"datum.r=='title'"}],"mark":{"type":"text","fontSize":19,"fontWeight":"bold","align":"center","baseline":"middle"},"encoding":{"text":{"field":"s","type":"nominal"}}},
    {"data":{"name":"txtD"},"transform":[{"filter":"datum.r=='yI' || datum.r=='ymain'"}],"mark":{"type":"text","fontSize":21,"fontWeight":"bold","align":"left","baseline":"alphabetic","angle":270},"encoding":{"text":{"field":"s","type":"nominal"}}},
    {"data":{"name":"txtD"},"transform":[{"filter":"datum.r=='ysub'"}],"mark":{"type":"text","fontSize":17,"fontWeight":"bold","align":"left","baseline":"alphabetic","angle":270},"encoding":{"text":{"field":"s","type":"nominal"}}}
   ]}
 ],"spacing":71.5,"bounds":"flush"}
],"spacing":578.4,"bounds":"flush"},
{"hconcat":[
 {"width":341,"height":167,
  "encoding":{"x":{"field":"t","type":"quantitative","scale":{"domain":[-35,110],"nice":false,"zero":false},"axis":null},"y":{"field":"pa","type":"quantitative","scale":{"domain":[0,1988],"nice":false,"zero":false},"axis":null}},
  "layer":[
   {"data":{"name":"decay"},"mark":{"type":"line","color":"black","strokeWidth":1},"encoding":{"detail":{"field":"cell","type":"nominal"}}},
   {"data":{"name":"decay"},"mark":{"type":"point","shape":"circle","filled":true,"size":42,"stroke":"black","strokeWidth":1,"opacity":1},"encoding":{"fill":{"condition":{"test":"datum.cell=='PF'","value":"black"},"value":"white"}}},
   {"data":{"name":"barE"},"mark":{"type":"rule","color":"black","strokeWidth":1.2},"encoding":{"x2":{"field":"t2"},"y2":{"field":"pa2"}}},
   {"data":{"name":"arrE"},"mark":{"type":"rule","color":"black","strokeWidth":1.5},"encoding":{"x2":{"field":"t2"},"y2":{"field":"pa2"}}},
   {"data":{"name":"arrE"},"transform":[{"filter":"datum.a=='PF'"}],"mark":{"type":"point","shape":"M0,0L-0.4,1L0.4,1Z","filled":true,"color":"black","size":400,"angle":231,"opacity":1},"encoding":{"x":{"field":"t2","type":"quantitative","axis":null},"y":{"field":"pa2","type":"quantitative","axis":null}}},
   {"data":{"name":"arrE"},"transform":[{"filter":"datum.a=='VM'"}],"mark":{"type":"point","shape":"M0,0L-0.4,1L0.4,1Z","filled":true,"color":"black","size":400,"angle":298,"opacity":1},"encoding":{"x":{"field":"t2","type":"quantitative","axis":null},"y":{"field":"pa2","type":"quantitative","axis":null}}},
   {"data":{"name":"txtE"},"transform":[{"filter":"datum.r=='letter'"}],"mark":{"type":"text","fontSize":20,"fontWeight":"bold","align":"center","baseline":"middle"},"encoding":{"text":{"field":"s","type":"nominal"}}},
   {"data":{"name":"txtE"},"transform":[{"filter":"datum.r=='big'"}],"mark":{"type":"text","fontSize":24,"fontWeight":"bold","align":"center","baseline":"middle"},"encoding":{"text":{"field":"s","type":"nominal"}}},
   {"data":{"name":"txtE"},"transform":[{"filter":"datum.r=='vbar'"}],"mark":{"type":"text","fontSize":17,"align":"center","baseline":"middle","angle":270},"encoding":{"text":{"field":"s","type":"nominal"}}},
   {"data":{"name":"txtE"},"transform":[{"filter":"datum.r=='hbar'"}],"mark":{"type":"text","fontSize":17,"align":"center","baseline":"middle"},"encoding":{"text":{"field":"s","type":"nominal"}}},
   {"data":{"name":"txtE"},"transform":[{"filter":"datum.r=='f' || datum.r=='s'"}],"mark":{"type":"text","font":"Liberation Serif","fontSize":20,"align":"left","baseline":"alphabetic"},"encoding":{"text":{"value":"τ"}}},
   {"data":{"name":"txtE"},"transform":[{"filter":"datum.r=='f' || datum.r=='s'"}],"mark":{"type":"text","fontSize":13,"fontWeight":"bold","align":"left","baseline":"alphabetic","dx":11,"dy":4},"encoding":{"text":{"field":"s","type":"nominal"}}},
   {"data":{"name":"txtE"},"transform":[{"filter":"datum.r=='f'"}],"mark":{"type":"text","fontSize":18,"fontWeight":"bold","align":"left","baseline":"alphabetic","dx":35},"encoding":{"text":{"field":"v","type":"nominal"}}},
   {"data":{"name":"txtE"},"transform":[{"filter":"datum.r=='s'"}],"mark":{"type":"text","fontSize":18,"fontWeight":"bold","align":"left","baseline":"alphabetic","dx":40},"encoding":{"text":{"field":"v","type":"nominal"}}}
  ]},
 {"hconcat":[
  {"width":212,"height":167,
   "encoding":{"x":{"field":"mv","type":"quantitative","scale":{"domain":[0,55],"nice":false,"zero":false},"axis":{"values":[0,10,20,30,40,50],"title":"mV"}},"y":{"field":"tau","type":"quantitative","scale":{"domain":[0,200],"nice":false,"zero":false},"axis":{"values":[0,50,100,150,200],"title":null}}},
   "layer":[
    {"data":{"name":"tauF"},"mark":{"type":"line","color":"black","strokeWidth":1.5},"encoding":{"detail":{"field":"s","type":"nominal"}}},
    {"data":{"name":"tauF"},"transform":[{"filter":"isValid(datum.lo)"}],"mark":{"type":"rule","color":"black","strokeWidth":1.5},"encoding":{"y":{"field":"lo","type":"quantitative","axis":{"values":[0,50,100,150,200],"title":null}},"y2":{"field":"hi"}}},
    {"data":{"name":"tauF"},"transform":[{"filter":"isValid(datum.lo)"}],"mark":{"type":"tick","orient":"horizontal","color":"black","size":10,"thickness":1.5},"encoding":{"y":{"field":"lo","type":"quantitative","axis":{"values":[0,50,100,150,200],"title":null}}}},
    {"data":{"name":"tauF"},"transform":[{"filter":"isValid(datum.hi)"}],"mark":{"type":"tick","orient":"horizontal","color":"black","size":10,"thickness":1.5},"encoding":{"y":{"field":"hi","type":"quantitative","axis":{"values":[0,50,100,150,200],"title":null}}}},
    {"data":{"name":"tauF"},"mark":{"type":"point","filled":true,"size":85,"stroke":"black","strokeWidth":1.5,"opacity":1},"encoding":{"shape":{"condition":{"test":"datum.s=='d0s' || datum.s=='d2s'","value":"square"},"value":"circle"},"fill":{"condition":{"test":"datum.s=='d2f' || datum.s=='d2s'","value":"black"},"value":"white"}}},
    {"data":{"name":"legF"},"mark":{"type":"tick","orient":"horizontal","color":"black","size":23,"thickness":1.5}},
    {"data":{"name":"legF"},"mark":{"type":"point","filled":true,"size":60,"stroke":"black","strokeWidth":1.3,"opacity":1},"encoding":{"shape":{"condition":{"test":"datum.s=='d0s' || datum.s=='d2s'","value":"square"},"value":"circle"},"fill":{"condition":{"test":"datum.s=='d2f' || datum.s=='d2s'","value":"black"},"value":"white"}}},
    {"data":{"name":"legF"},"mark":{"type":"text","fontSize":18,"fontWeight":"bold","align":"left","baseline":"middle","dx":16.6},"encoding":{"text":{"field":"day","type":"nominal"}}},
    {"data":{"name":"legF"},"mark":{"type":"text","font":"Liberation Serif","fontSize":20,"align":"left","baseline":"middle","dx":69.6},"encoding":{"text":{"value":"τ"}}},
    {"data":{"name":"legF"},"mark":{"type":"text","fontSize":13,"fontWeight":"bold","align":"left","baseline":"middle","dx":81,"dy":5},"encoding":{"text":{"field":"sub","type":"nominal"}}},
    {"data":{"name":"legF"},"transform":[{"filter":"datum.sub=='fast'"}],"mark":{"type":"text","fontSize":18,"fontWeight":"bold","align":"left","baseline":"middle","dx":107.6},"encoding":{"text":{"field":"n","type":"nominal"}}},
    {"data":{"name":"legF"},"transform":[{"filter":"datum.sub=='slow'"}],"mark":{"type":"text","fontSize":18,"fontWeight":"bold","align":"left","baseline":"middle","dx":113.6},"encoding":{"text":{"field":"n","type":"nominal"}}},
    {"data":{"name":"txtF"},"transform":[{"filter":"datum.r=='letter'"}],"mark":{"type":"text","fontSize":20,"fontWeight":"bold","align":"center","baseline":"middle"},"encoding":{"text":{"field":"s","type":"nominal"}}},
    {"data":{"name":"txtF"},"transform":[{"filter":"datum.r=='title'"}],"mark":{"type":"text","fontSize":19,"fontWeight":"bold","align":"center","baseline":"middle"},"encoding":{"text":{"field":"s","type":"nominal"}}},
    {"data":{"name":"txtF"},"transform":[{"filter":"datum.r=='yI' || datum.r=='ymain'"}],"mark":{"type":"text","fontSize":24,"fontWeight":"bold","align":"left","baseline":"alphabetic","angle":270},"encoding":{"text":{"field":"s","type":"nominal"}}},
    {"data":{"name":"txtF"},"transform":[{"filter":"datum.r=='ysub'"}],"mark":{"type":"text","fontSize":16,"fontWeight":"bold","align":"left","baseline":"alphabetic","angle":270},"encoding":{"text":{"field":"s","type":"nominal"}}}
   ]},
  {"width":205,"height":167,
   "encoding":{"x":{"field":"mv","type":"quantitative","scale":{"domain":[0,53],"nice":false,"zero":false},"axis":{"values":[0,10,20,30,40,50],"title":"mV"}},"y":{"field":"tau","type":"quantitative","scale":{"domain":[0,50],"nice":false,"zero":false},"axis":{"values":[0,10,20,30,40,50],"title":null}}},
   "layer":[
    {"data":{"name":"tauG"},"mark":{"type":"line","color":"black","strokeWidth":1.5},"encoding":{"detail":{"field":"s","type":"nominal"}}},
    {"data":{"name":"tauG"},"transform":[{"filter":"isValid(datum.lo)"}],"mark":{"type":"rule","color":"black","strokeWidth":1.5},"encoding":{"y":{"field":"lo","type":"quantitative","axis":{"values":[0,10,20,30,40,50],"title":null}},"y2":{"field":"hi"}}},
    {"data":{"name":"tauG"},"transform":[{"filter":"isValid(datum.lo)"}],"mark":{"type":"tick","orient":"horizontal","color":"black","size":10,"thickness":1.5},"encoding":{"y":{"field":"lo","type":"quantitative","axis":{"values":[0,10,20,30,40,50],"title":null}}}},
    {"data":{"name":"tauG"},"transform":[{"filter":"isValid(datum.hi)"}],"mark":{"type":"tick","orient":"horizontal","color":"black","size":10,"thickness":1.5},"encoding":{"y":{"field":"hi","type":"quantitative","axis":{"values":[0,10,20,30,40,50],"title":null}}}},
    {"data":{"name":"tauG"},"mark":{"type":"point","filled":true,"size":85,"stroke":"black","strokeWidth":1.5,"opacity":1},"encoding":{"shape":{"condition":{"test":"datum.s=='d0s' || datum.s=='d2s'","value":"square"},"value":"circle"},"fill":{"condition":{"test":"datum.s=='d2f' || datum.s=='d2s'","value":"black"},"value":"white"}}},
    {"data":{"name":"legG"},"mark":{"type":"tick","orient":"horizontal","color":"black","size":23,"thickness":1.5}},
    {"data":{"name":"legG"},"mark":{"type":"point","filled":true,"size":60,"stroke":"black","strokeWidth":1.3,"opacity":1},"encoding":{"shape":{"condition":{"test":"datum.s=='d0s' || datum.s=='d2s'","value":"square"},"value":"circle"},"fill":{"condition":{"test":"datum.s=='d2f' || datum.s=='d2s'","value":"black"},"value":"white"}}},
    {"data":{"name":"legG"},"mark":{"type":"text","fontSize":18,"fontWeight":"bold","align":"left","baseline":"middle","dx":17.7},"encoding":{"text":{"field":"day","type":"nominal"}}},
    {"data":{"name":"legG"},"mark":{"type":"text","font":"Liberation Serif","fontSize":20,"align":"left","baseline":"middle","dx":70.7},"encoding":{"text":{"value":"τ"}}},
    {"data":{"name":"legG"},"mark":{"type":"text","fontSize":13,"fontWeight":"bold","align":"left","baseline":"middle","dx":82,"dy":5},"encoding":{"text":{"field":"sub","type":"nominal"}}},
    {"data":{"name":"legG"},"transform":[{"filter":"datum.sub=='fast'"}],"mark":{"type":"text","fontSize":18,"fontWeight":"bold","align":"left","baseline":"middle","dx":108.7},"encoding":{"text":{"field":"n","type":"nominal"}}},
    {"data":{"name":"legG"},"transform":[{"filter":"datum.sub=='slow'"}],"mark":{"type":"text","fontSize":18,"fontWeight":"bold","align":"left","baseline":"middle","dx":114.7},"encoding":{"text":{"field":"n","type":"nominal"}}},
    {"data":{"name":"txtG"},"transform":[{"filter":"datum.r=='letter'"}],"mark":{"type":"text","fontSize":20,"fontWeight":"bold","align":"center","baseline":"middle"},"encoding":{"text":{"field":"s","type":"nominal"}}},
    {"data":{"name":"txtG"},"transform":[{"filter":"datum.r=='title'"}],"mark":{"type":"text","fontSize":19,"fontWeight":"bold","align":"center","baseline":"middle"},"encoding":{"text":{"field":"s","type":"nominal"}}},
    {"data":{"name":"txtG"},"transform":[{"filter":"datum.r=='yI' || datum.r=='ymain'"}],"mark":{"type":"text","fontSize":24,"fontWeight":"bold","align":"left","baseline":"alphabetic","angle":270},"encoding":{"text":{"field":"s","type":"nominal"}}},
    {"data":{"name":"txtG"},"transform":[{"filter":"datum.r=='ysub'"}],"mark":{"type":"text","fontSize":16,"fontWeight":"bold","align":"left","baseline":"alphabetic","angle":270},"encoding":{"text":{"field":"s","type":"nominal"}}}
   ]}
 ],"spacing":126,"bounds":"flush"}
],"spacing":108.25,"bounds":"flush"}
],
"spacing":364,
"bounds":"flush"
}
